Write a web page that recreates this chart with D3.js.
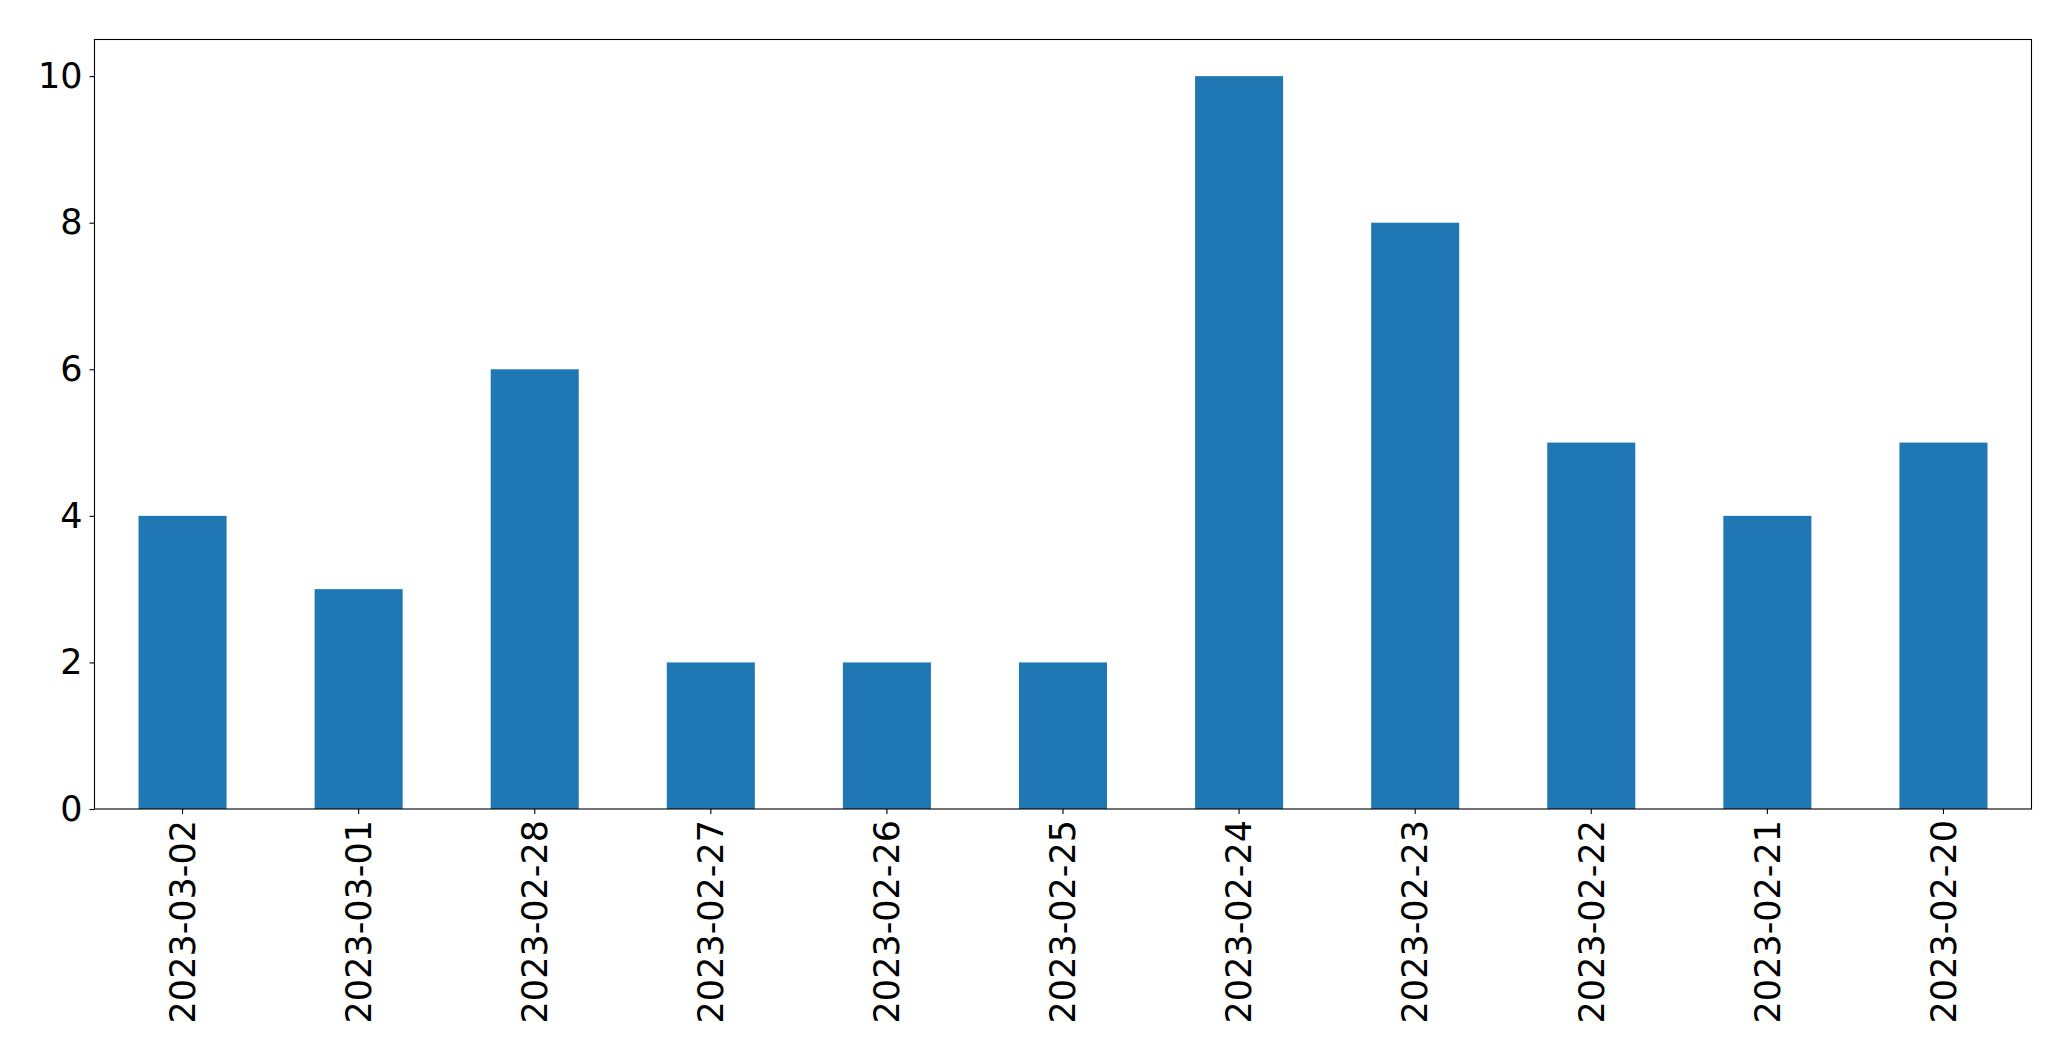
<!DOCTYPE html>
<html>
<head>
<meta charset="utf-8">
<script src="https://cdn.jsdelivr.net/npm/d3@7"></script>
<style>
  html, body { margin: 0; padding: 0; background: #fff; }
  svg { display: block; }
  .tick text { font-family: "DejaVu Sans", sans-serif; font-size: 35px; fill: #000; }
</style>
</head>
<body>
<svg id="chart"></svg>
<script>
const dates = ["2023-03-02", "2023-03-01", "2023-02-28", "2023-02-27", "2023-02-26",
  "2023-02-25", "2023-02-24", "2023-02-23", "2023-02-22", "2023-02-21", "2023-02-20"];
const counts = [4, 3, 6, 2, 2, 2, 10, 8, 5, 4, 5];
const yTicks = [0, 2, 4, 6, 8, 10];

const width = 2071, height = 1061;
const margin = { top: 39.5, right: 39.5, bottom: 252, left: 94.5 };
const plotW = width - margin.left - margin.right;
const plotH = height - margin.top - margin.bottom;

const svg = d3.select("#chart").attr("width", width).attr("height", height);
const g = svg.append("g").attr("transform", `translate(${margin.left},${margin.top})`);

// band scale: bar width 0.5 of step, no outer gap beyond half a step
const x = d3.scaleBand().domain(dates).range([0, plotW]).paddingInner(0.5).paddingOuter(0.25);
const y = d3.scaleLinear().domain([0, 10.5]).range([plotH, 0]);

g.selectAll("rect.bar")
  .data(dates)
  .join("rect")
  .attr("class", "bar")
  .attr("x", (d) => x(d))
  .attr("width", x.bandwidth())
  .attr("y", (d, i) => y(counts[i]))
  .attr("height", (d, i) => y(0) - y(counts[i]))
  .attr("fill", "#1f77b4");

// y axis
const yAxis = g.append("g")
  .call(d3.axisLeft(y).tickValues(yTicks).tickSize(5).tickPadding(7).tickFormat(d3.format("d")));
yAxis.select(".domain").remove();
yAxis.selectAll(".tick line").attr("stroke", "#000").attr("stroke-width", 1.1);

// x axis
const xAxis = g.append("g")
  .attr("transform", `translate(0,${plotH})`)
  .call(d3.axisBottom(x).tickSize(5).tickPadding(0));
xAxis.select(".domain").remove();
xAxis.selectAll(".tick line").attr("stroke", "#000").attr("stroke-width", 1.1);
xAxis.selectAll(".tick text")
  .attr("transform", "rotate(-90)")
  .attr("text-anchor", "end")
  .attr("x", -11)
  .attr("y", 0)
  .attr("dy", "0.35em");

// frame
g.append("rect")
  .attr("x", 0).attr("y", 0)
  .attr("width", plotW).attr("height", plotH)
  .attr("fill", "none")
  .attr("stroke", "#000")
  .attr("stroke-width", 1.1);
</script>
</body>
</html>
